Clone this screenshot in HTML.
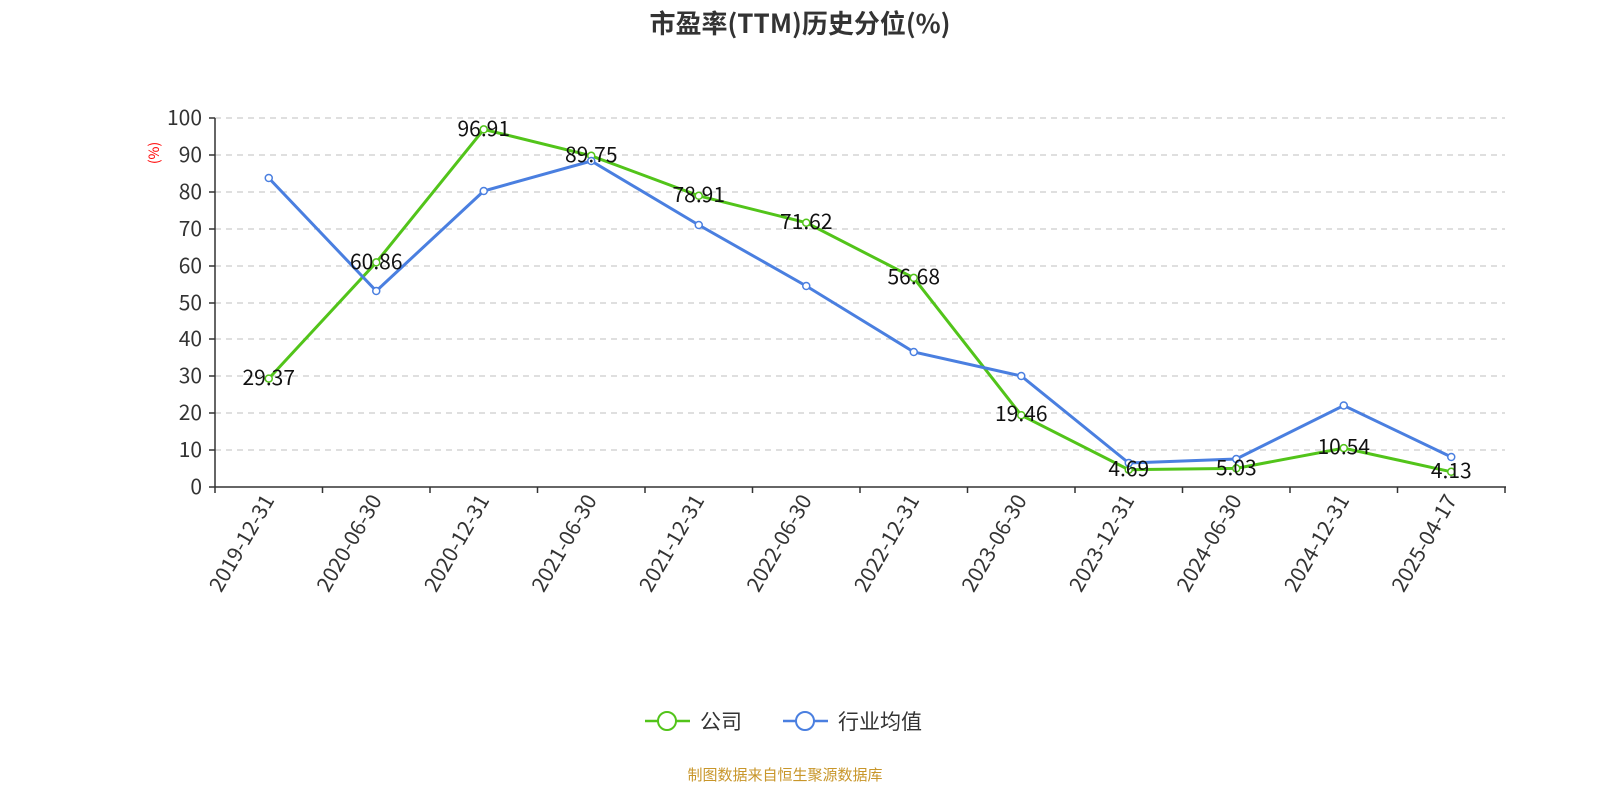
<!DOCTYPE html>
<html><head><meta charset="utf-8"><style>
body{margin:0;background:#fff;width:1600px;height:800px;overflow:hidden}
svg text{font-family:"Noto Sans CJK SC","Liberation Sans",sans-serif}
</style></head><body>
<svg width="1600" height="800" xmlns="http://www.w3.org/2000/svg">
<text x="800" y="33" text-anchor="middle" font-size="26" font-weight="bold" fill="#333">市盈率(TTM)历史分位(%)</text>
<g stroke="#ccc" stroke-dasharray="6,5" stroke-width="1.2">
<line x1="215" x2="1505" y1="118" y2="118"/><line x1="215" x2="1505" y1="155" y2="155"/>
<line x1="215" x2="1505" y1="192" y2="192"/><line x1="215" x2="1505" y1="229" y2="229"/>
<line x1="215" x2="1505" y1="266" y2="266"/><line x1="215" x2="1505" y1="303" y2="303"/>
<line x1="215" x2="1505" y1="339" y2="339"/><line x1="215" x2="1505" y1="376" y2="376"/>
<line x1="215" x2="1505" y1="413" y2="413"/><line x1="215" x2="1505" y1="450" y2="450"/>
</g>
<g stroke="#333" stroke-width="1.5">
<line x1="215" x2="215" y1="118" y2="487"/>
<line x1="215" x2="1506" y1="487" y2="487"/>
<line x1="209" x2="215" y1="118" y2="118"/><line x1="209" x2="215" y1="155" y2="155"/><line x1="209" x2="215" y1="192" y2="192"/><line x1="209" x2="215" y1="229" y2="229"/><line x1="209" x2="215" y1="266" y2="266"/><line x1="209" x2="215" y1="303" y2="303"/><line x1="209" x2="215" y1="339" y2="339"/><line x1="209" x2="215" y1="376" y2="376"/><line x1="209" x2="215" y1="413" y2="413"/><line x1="209" x2="215" y1="450" y2="450"/><line x1="209" x2="215" y1="487" y2="487"/>
<line x1="215" x2="215" y1="487" y2="493"/><line x1="322.5" x2="322.5" y1="487" y2="493"/><line x1="430" x2="430" y1="487" y2="493"/><line x1="537.5" x2="537.5" y1="487" y2="493"/><line x1="645" x2="645" y1="487" y2="493"/><line x1="752.5" x2="752.5" y1="487" y2="493"/><line x1="860" x2="860" y1="487" y2="493"/><line x1="967.5" x2="967.5" y1="487" y2="493"/><line x1="1075" x2="1075" y1="487" y2="493"/><line x1="1182.5" x2="1182.5" y1="487" y2="493"/><line x1="1290" x2="1290" y1="487" y2="493"/><line x1="1397.5" x2="1397.5" y1="487" y2="493"/><line x1="1505" x2="1505" y1="487" y2="493"/>
</g>
<g font-size="21" fill="#333" text-anchor="end">
<text x="202" y="125">100</text><text x="202" y="162">90</text><text x="202" y="199">80</text><text x="202" y="236">70</text><text x="202" y="273">60</text><text x="202" y="310">50</text><text x="202" y="346">40</text><text x="202" y="383">30</text><text x="202" y="420">20</text><text x="202" y="457">10</text><text x="202" y="494">0</text>
</g>
<text transform="translate(159,153) rotate(-90)" font-size="14" fill="red" text-anchor="middle">(%)</text>
<g font-size="21" fill="#333" text-anchor="end">
<text transform="translate(275,500) rotate(-60)">2019-12-31</text>
<text transform="translate(382.5,500) rotate(-60)">2020-06-30</text>
<text transform="translate(490,500) rotate(-60)">2020-12-31</text>
<text transform="translate(597.5,500) rotate(-60)">2021-06-30</text>
<text transform="translate(705,500) rotate(-60)">2021-12-31</text>
<text transform="translate(812.5,500) rotate(-60)">2022-06-30</text>
<text transform="translate(920,500) rotate(-60)">2022-12-31</text>
<text transform="translate(1027.5,500) rotate(-60)">2023-06-30</text>
<text transform="translate(1135,500) rotate(-60)">2023-12-31</text>
<text transform="translate(1242.5,500) rotate(-60)">2024-06-30</text>
<text transform="translate(1350,500) rotate(-60)">2024-12-31</text>
<text transform="translate(1457.5,500) rotate(-60)">2025-04-17</text>
</g>
<polyline fill="none" stroke="#52c41a" stroke-width="3" points="268.75,378.6 376.25,262.4 483.75,129.4 591.25,155.8 698.75,195.8 806.25,222.7 913.75,277.9 1021.25,415.2 1128.75,469.7 1236.25,468.4 1343.75,448.1 1451.25,471.8"/>
<polyline fill="none" stroke="#4a7fe0" stroke-width="3" points="268.75,178 376.25,291 483.75,191 591.25,161 698.75,225 806.25,286 913.75,352 1021.25,376 1128.75,463 1236.25,459 1343.75,405.5 1451.25,457"/>
<g fill="#fff" stroke="#52c41a" stroke-width="1.5">
<circle cx="268.75" cy="378.6" r="3.5"/><circle cx="376.25" cy="262.4" r="3.5"/><circle cx="483.75" cy="129.4" r="3.5"/><circle cx="591.25" cy="155.8" r="3.5"/><circle cx="698.75" cy="195.8" r="3.5"/><circle cx="806.25" cy="222.7" r="3.5"/><circle cx="913.75" cy="277.9" r="3.5"/><circle cx="1021.25" cy="415.2" r="3.5"/><circle cx="1128.75" cy="469.7" r="3.5"/><circle cx="1236.25" cy="468.4" r="3.5"/><circle cx="1343.75" cy="448.1" r="3.5"/><circle cx="1451.25" cy="471.8" r="3.5"/>
</g>
<g fill="#fff" stroke="#4a7fe0" stroke-width="1.5">
<circle cx="268.75" cy="178" r="3.5"/><circle cx="376.25" cy="291" r="3.5"/><circle cx="483.75" cy="191" r="3.5"/><circle cx="591.25" cy="161" r="3.5"/><circle cx="698.75" cy="225" r="3.5"/><circle cx="806.25" cy="286" r="3.5"/><circle cx="913.75" cy="352" r="3.5"/><circle cx="1021.25" cy="376" r="3.5"/><circle cx="1128.75" cy="463" r="3.5"/><circle cx="1236.25" cy="459" r="3.5"/><circle cx="1343.75" cy="405.5" r="3.5"/><circle cx="1451.25" cy="457" r="3.5"/>
</g>
<g font-size="21" fill="#111" text-anchor="middle">
<text x="268.75" y="385">29.37</text><text x="376.25" y="269">60.86</text><text x="483.75" y="136">96.91</text><text x="591.25" y="162">89.75</text><text x="698.75" y="202">78.91</text><text x="806.25" y="229">71.62</text><text x="913.75" y="284">56.68</text><text x="1021.25" y="421">19.46</text><text x="1128.75" y="476">4.69</text><text x="1236.25" y="475">5.03</text><text x="1343.75" y="454">10.54</text><text x="1451.25" y="478">4.13</text>
</g>
<g>
<line x1="645" x2="690" y1="721" y2="721" stroke="#52c41a" stroke-width="2.5"/><circle cx="667" cy="721" r="9" fill="#fff" stroke="#52c41a" stroke-width="2"/>
<text x="700" y="729" font-size="21" fill="#333">公司</text>
<line x1="783" x2="828" y1="721" y2="721" stroke="#4a7fe0" stroke-width="2.5"/><circle cx="805" cy="721" r="9" fill="#fff" stroke="#4a7fe0" stroke-width="2"/>
<text x="838" y="729" font-size="21" fill="#333">行业均值</text>
</g>
<text x="785" y="780" font-size="15" fill="#c8962a" text-anchor="middle">制图数据来自恒生聚源数据库</text>
</svg>
</body></html>
